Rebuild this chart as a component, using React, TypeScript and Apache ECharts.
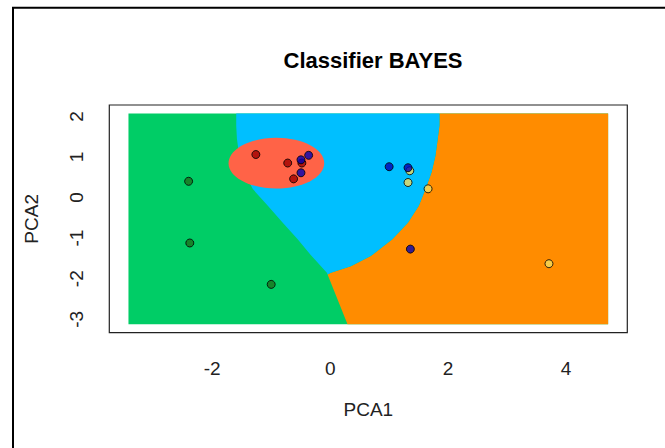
import React, { useEffect, useRef } from "react";
import * as echarts from "echarts";

// Tick values
const xTicks = [-2, 0, 2, 4];
const yTicks = [-3, -2, -1, 0, 1, 2];

// Observations (PCA1, PCA2) by class
const greenPts = [[-2.40, 0.40], [-2.38, -1.12], [-1.00, -2.14]];
const redPts = [[-1.26, 1.06], [-0.72, 0.85], [-0.48, 0.85], [-0.62, 0.46]];
const yellowPts = [[1.35, 0.66], [1.32, 0.37], [1.66, 0.215], [3.71, -1.63]];
const bluePts = [[-0.495, 0.93], [-0.365, 1.04], [-0.495, 0.61], [1.00, 0.76], [1.32, 0.735], [1.36, -1.27]];

// Decision-region geometry (data units)
const regionX = [-3.42, 4.713];
const regionY = [-3.12, 2.07];
const greenBlueBoundary = [
  [-1.593, 2.07], [-1.593, 1.775], [-1.581, 1.446], [-1.542, 1.032], [-1.458, 0.611],
  [-1.311, 0.208], [-1.057, -0.205], [-0.804, -0.619], [-0.551, -1.03], [-0.314, -1.443],
  [-0.056, -1.856], [-0.044, -1.896],
];
const blueOrangeBoundary = [
  [1.853, 2.07], [1.853, 1.775], [1.824, 1.446], [1.785, 1.032], [1.718, 0.619],
  [1.617, 0.208], [1.503, -0.205], [1.318, -0.619], [1.054, -1.03], [0.688, -1.443],
  [0.35, -1.691], [0.012, -1.856], [-0.044, -1.896],
];
const greenOrangeBoundary = [[-0.044, -1.896], [0.294, -3.12]];
const redEllipse = [-0.912, 0.847, 0.811, 0.624]; // cx, cy, rx, ry

const FONT = "Liberation Sans, Arial, sans-serif";

export default function App() {
  const ref = useRef<HTMLDivElement>(null);
  useEffect(() => {
    if (!ref.current) return;
    const chart = echarts.init(ref.current, undefined, { renderer: "svg" });
    const pointStyle = (color: string) => ({
      color,
      borderColor: "#000",
      borderWidth: 1,
    });
    chart.setOption({
      animation: false,
      backgroundColor: "#fff",
      title: {
        text: "Classifier BAYES",
        left: 368,
        top: 44,
        textAlign: "center",
        textStyle: { fontSize: 22, fontWeight: "bold", color: "#000", fontFamily: FONT },
      },
      graphic: [
        {
          type: "rect",
          shape: { x: 13, y: 7.7, width: 700, height: 500 },
          style: { fill: "none", stroke: "#000", lineWidth: 2 },
          silent: true,
        },
      ],
      grid: {
        left: 109.3,
        right: 37.7,
        top: 105,
        bottom: 115.3,
        show: true,
        borderColor: "#222",
        borderWidth: 1.2,
        backgroundColor: "transparent",
      },
      xAxis: {
        type: "value",
        min: -3.745,
        max: 5.038,
        name: "PCA1",
        nameLocation: "middle",
        nameGap: 67,
        nameTextStyle: { fontSize: 19, color: "#222", fontFamily: FONT },
        axisLine: { show: false },
        splitLine: { show: false },
        axisTick: { show: true, customValues: xTicks, length: 12, lineStyle: { color: "#333" } },
        axisLabel: { customValues: xTicks, fontSize: 19, color: "#222", margin: 26, fontFamily: FONT },
      },
      yAxis: {
        type: "value",
        min: -3.33,
        max: 2.28,
        name: "PCA2",
        nameLocation: "middle",
        nameGap: 68,
        nameTextStyle: { fontSize: 19, color: "#222", fontFamily: FONT },
        axisLine: { show: false },
        splitLine: { show: false },
        axisTick: { show: true, customValues: yTicks, length: 12, lineStyle: { color: "#333" } },
        axisLabel: { customValues: yTicks, fontSize: 19, color: "#222", margin: 23, rotate: 90, fontFamily: FONT },
      },
      series: [
        {
          type: "custom",
          z: 1,
          silent: true,
          data: [[0, 0]],
          renderItem: (params: any, api: any) => {
            if (params.dataIndex !== 0) return null;
            const c = (p: number[]) => api.coord(p);
            const [x0, x1] = regionX;
            const [y0, y1] = regionY;
            const rect = [[x0, y0], [x1, y0], [x1, y1], [x0, y1]].map(c);
            const orange = [
              ...blueOrangeBoundary,
              greenOrangeBoundary[1],
              [x1, y0],
              [x1, y1],
            ].map(c);
            const blue = [...greenBlueBoundary, ...blueOrangeBoundary.slice().reverse()].map(c);
            const [ecx, ecy, erx, ery] = redEllipse;
            const center = c([ecx, ecy]);
            const size = api.size([erx, ery]);
            return {
              type: "group",
              children: [
                { type: "polygon", shape: { points: rect }, style: { fill: "#00CD66" } },
                { type: "polygon", shape: { points: orange }, style: { fill: "#FF8C00" } },
                { type: "polygon", shape: { points: blue }, style: { fill: "#00BFFF" } },
                {
                  type: "ellipse",
                  shape: { cx: center[0], cy: center[1], rx: size[0], ry: size[1] },
                  style: { fill: "#FF6347" },
                },
              ],
            };
          },
        },
        { type: "scatter", z: 3, symbolSize: 8, data: greenPts, itemStyle: pointStyle("#1C731C") },
        { type: "scatter", z: 3, symbolSize: 8, data: redPts, itemStyle: pointStyle("#A00000") },
        { type: "scatter", z: 3, symbolSize: 8, data: yellowPts, itemStyle: pointStyle("#F2DC5D") },
        { type: "scatter", z: 3, symbolSize: 8, data: bluePts, itemStyle: pointStyle("#0000B4") },
      ],
    });
    return () => chart.dispose();
  }, []);
  return (
    <div
      ref={ref}
      style={{ position: "absolute", left: 0, top: 0, width: 665, height: 448 }}
    />
  );
}
